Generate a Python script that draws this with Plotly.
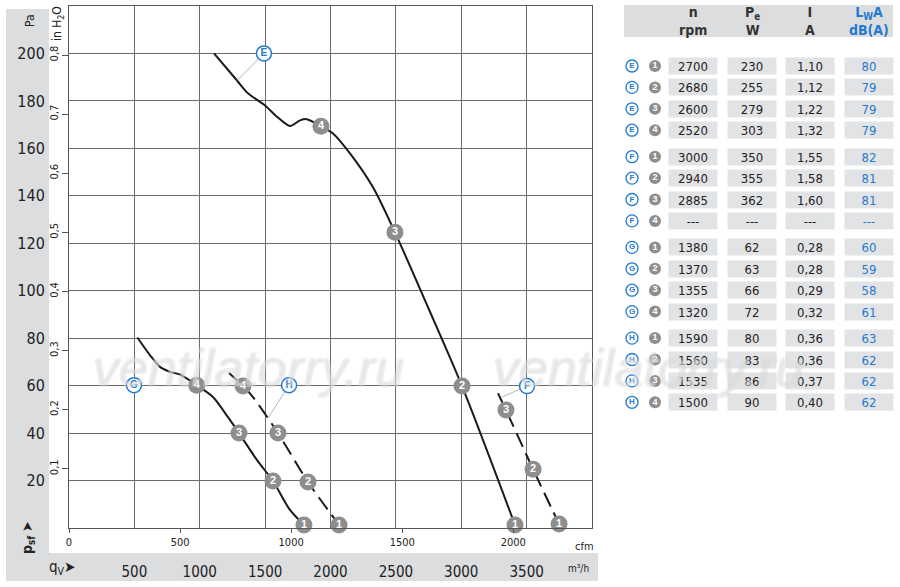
import plotly.graph_objects as go

W, H = 900, 587
NARROW = "Liberation Sans Narrow, DejaVu Sans Condensed, Arial Narrow, sans-serif"
DARK = "#222222"
BLUE = "#1f7ad0"
GRAYMK = "#8e8e8e"
STRIP = "#dcdddf"
CELL = "#e2e3e5"

# ---- characteristic curves (q_V in m3/h, p_sf in Pa) ----
E_q = [1109, 1285, 1369, 1499, 1598, 1690, 1767, 1818, 1927, 2019, 2149, 2325, 2493, 2750, 3006, 3411]
E_p = [200, 188.6, 183.2, 178.1, 173, 169.4, 171.8, 172.3, 169.3, 166.3, 157.9, 143.6, 124.6, 92.5, 59.8, 1.3]
F_q = [3281, 3342, 3549, 3748]
F_p = [56.8, 49.7, 24.8, 1.7]
G_q = [523, 620, 696, 772, 849, 913, 977, 1101, 1216, 1300, 1438, 1560, 1690, 1797]
G_p = [80.3, 72.8, 67.9, 65.8, 64.7, 62.6, 60.2, 55.2, 46.7, 40, 28.6, 19.8, 7.6, 1.3]
H_q = [1224, 1331, 1407, 1598, 1828, 2065]
H_p = [65.3, 59.8, 55.2, 40, 19.4, 1.3]

# operating points on the curves
pt_num = ["4", "3", "2", "1"]
E_mq = [1927, 2493, 3006, 3411]
E_mp = [169.3, 124.6, 59.8, 1.3]
F_num = ["3", "2", "1"]
F_mq = [3342, 3549, 3748]
F_mp = [49.7, 24.8, 1.7]
G_mq = [977, 1300, 1560, 1797]
G_mp = [60.2, 40, 19.8, 1.3]
H_mq = [1331, 1598, 1828, 2065]
H_mp = [59.8, 40, 19.4, 1.3]

# curve letters and their leader lines
lab_txt = ["E", "F", "G", "H"]
lab_q = [1491, 3503, 497, 1683]
lab_p = [200, 59.8, 60.2, 60.2]
lead_q = [1285, 3312, None, 1522]
lead_p = [188.6, 55.2, None, 46.3]

# axes ticks
pa_ticks = [20, 40, 60, 80, 100, 120, 140, 160, 180, 200]
inh2o_ticks = [0.1, 0.2, 0.3, 0.4, 0.5, 0.6, 0.7, 0.8]
inh2o_text = ["0,1", "0,2", "0,3", "0,4", "0,5", "0,6", "0,7", "0,8"]
m3h_ticks = [500, 1000, 1500, 2000, 2500, 3000, 3500]
cfm_ticks = [0, 500, 1000, 1500, 2000]

# ---- table ----
tbl_letter = ["E"] * 4 + ["F"] * 4 + ["G"] * 4 + ["H"] * 4
tbl_num = ["1", "2", "3", "4"] * 4
tbl_n = ["2700", "2680", "2600", "2520", "3000", "2940", "2885", "---",
         "1380", "1370", "1355", "1320", "1590", "1560", "1535", "1500"]
tbl_pe = ["230", "255", "279", "303", "350", "355", "362", "---",
          "62", "63", "66", "72", "80", "83", "86", "90"]
tbl_i = ["1,10", "1,12", "1,22", "1,32", "1,55", "1,58", "1,60", "---",
         "0,28", "0,28", "0,29", "0,32", "0,36", "0,36", "0,37", "0,40"]
tbl_lwa = ["80", "79", "79", "79", "82", "81", "81", "---",
           "60", "59", "58", "61", "63", "62", "62", "62"]
tbl_head = ["<b>n<br>rpm</b>", "<b>P<sub>e</sub><br>W</b>", "<b>I<br>A</b>", "<b>L<sub>W</sub>A<br>dB(A)</b>"]

# layout geometry (pixels)
PX0, PX1, PY0, PY1 = 69, 592, 6, 528
col_x = [693, 752, 810, 869]
row_y = [66 + (k // 4) * 90.7 + (k % 4) * 21.4 for k in range(16)]


def px(x):
    return x / W


def py(y):
    return 1 - y / H


fig = go.Figure()

# curves
for q, p, dash in [(E_q, E_p, "solid"), (F_q, F_p, "15px,7px"), (G_q, G_p, "solid"), (H_q, H_p, "15px,7px")]:
    fig.add_trace(go.Scatter(x=q, y=p, mode="lines", hoverinfo="skip",
                             line=dict(color="#1a1a1a", width=2, shape="spline", smoothing=0.8, dash=dash)))

# leader lines
for i in range(4):
    if lead_q[i] is not None:
        fig.add_trace(go.Scatter(x=[lab_q[i], lead_q[i]], y=[lab_p[i], lead_p[i]], mode="lines",
                                 hoverinfo="skip", line=dict(color="#b5b5b5", width=1)))

# numbered points
for nums, q, p in [(pt_num, E_mq, E_mp), (F_num, F_mq, F_mp), (pt_num, G_mq, G_mp), (pt_num, H_mq, H_mp)]:
    fig.add_trace(go.Scatter(x=q, y=p, mode="markers+text", text=nums, textposition="middle center",
                             hoverinfo="skip", cliponaxis=False,
                             marker=dict(size=17, color=GRAYMK, line=dict(width=0)),
                             textfont=dict(family="Liberation Sans, Arial", size=11, color="white", weight="bold")))

# letter labels
fig.add_trace(go.Scatter(x=lab_q, y=lab_p, mode="markers+text", text=lab_txt, textposition="middle center",
                         hoverinfo="skip", cliponaxis=False,
                         marker=dict(size=15, color="white", line=dict(width=1.5, color=BLUE)),
                         textfont=dict(family="Liberation Sans, Arial", size=10, color=BLUE, weight="bold")))

# dummy trace for secondary axes (cfm / in H2O)
fig.add_trace(go.Scatter(x=[None], y=[None], xaxis="x2", yaxis="y2", showlegend=False, hoverinfo="skip"))

# table markers (pixel space axes x3/y3)
fig.add_trace(go.Scatter(x=[632] * 16, y=row_y, mode="markers+text", text=tbl_letter, xaxis="x3", yaxis="y3",
                         textposition="middle center", hoverinfo="skip",
                         marker=dict(size=12, color="white", line=dict(width=1.3, color=BLUE)),
                         textfont=dict(family="Liberation Sans, Arial", size=8, color=BLUE, weight="bold")))
fig.add_trace(go.Scatter(x=[655] * 16, y=row_y, mode="markers+text", text=tbl_num, xaxis="x3", yaxis="y3",
                         textposition="middle center", hoverinfo="skip",
                         marker=dict(size=12, color=GRAYMK, line=dict(width=0)),
                         textfont=dict(family="Liberation Sans, Arial", size=9, color="white", weight="bold")))

ann = []
shapes = []
# gray strips (paper referenced, drawn beneath everything)
for x0, x1, y0, y1 in [(6, 49, 9, 555), (6, 598, 553, 581), (624, 893, 5, 37)]:
    shapes.append(dict(type="rect", xref="paper", yref="paper", x0=px(x0), x1=px(x1), y0=py(y1), y1=py(y0),
                       fillcolor=STRIP, line_width=0, layer="below"))

# header
for j, t in enumerate(tbl_head):
    ann.append(dict(xref="x3", yref="y3", x=col_x[j], y=21, text=t, showarrow=False,
                    font=dict(family=NARROW, size=14, color=BLUE if j == 3 else "#333333")))
# cells
for k in range(16):
    for j, vals in enumerate([tbl_n, tbl_pe, tbl_i, tbl_lwa]):
        ann.append(dict(xref="x3", yref="y3", x=col_x[j], y=row_y[k], text=vals[k], showarrow=False,
                        width=48, height=16, bgcolor=CELL, borderpad=0, align="center", valign="middle",
                        font=dict(family=NARROW, size=13, color=BLUE if j == 3 else DARK)))

# axis captions
ann.append(dict(xref="x3", yref="y3", x=30, y=21, text="Pa", showarrow=False, textangle=-90,
                font=dict(family=NARROW, size=12, color=DARK)))
ann.append(dict(xref="x3", yref="y3", x=58, y=24, text="in H<sub>2</sub>O", showarrow=False, textangle=-90,
                font=dict(family=NARROW, size=12, color=DARK)))
ann.append(dict(xref="x3", yref="y3", x=28, y=538, text="<b>p<sub>sf</sub></b> ➤", showarrow=False, textangle=-90,
                font=dict(family=NARROW, size=14, color=DARK)))
ann.append(dict(xref="x3", yref="y3", x=62, y=567, text="q<sub>V</sub>➤", showarrow=False,
                font=dict(family=NARROW, size=15, color=DARK)))
ann.append(dict(xref="x3", yref="y3", x=584, y=546, text="cfm", showarrow=False,
                font=dict(family=NARROW, size=11, color=DARK)))
ann.append(dict(xref="x3", yref="y3", x=578, y=568, text="m³/h", showarrow=False,
                font=dict(family=NARROW, size=10, color=DARK)))

# watermark
for cx in [248, 648]:
    ann.append(dict(xref="x3", yref="y3", x=cx, y=368, text="ventilatorry.ru", showarrow=False,
                    font=dict(family="Liberation Sans, Arial", size=52, color="rgba(255,255,255,0.2)", style="italic",
                              shadow="-1px -1px 0 #cfcfcf, 1px -1px 0 #cfcfcf, -1px 1px 0 #cfcfcf, 1px 1px 0 #cfcfcf")))

axfont = dict(family=NARROW, color=DARK)
fig.update_layout(
    width=W, height=H, margin=dict(l=0, r=0, t=0, b=0),
    paper_bgcolor="white", plot_bgcolor="rgba(0,0,0,0)", showlegend=False,
    xaxis=dict(domain=[PX0 / W, PX1 / W], range=[0, 4000], tickvals=m3h_ticks, ticks="",
               showgrid=True, gridcolor="#6a6a6a", gridwidth=1, zeroline=False,
               showline=True, linecolor="#555555", linewidth=1, mirror=True,
               ticklabelstandoff=30, tickfont=dict(size=15, **axfont), automargin=False, fixedrange=True),
    xaxis2=dict(overlaying="x", anchor="y", side="bottom", range=[0, 4000 / 1.699], tickvals=cfm_ticks,
                ticks="outside", ticklen=4, tickcolor="#555555", showgrid=False, zeroline=False, showline=False,
                tickfont=dict(size=11, **axfont), automargin=False, fixedrange=True),
    yaxis=dict(domain=[1 - PY1 / H, 1 - PY0 / H], range=[0, 220], tickvals=pa_ticks, ticks="",
               showgrid=True, gridcolor="#6a6a6a", gridwidth=1, zeroline=False,
               showline=True, linecolor="#555555", linewidth=1, mirror=True,
               ticklabelstandoff=20, tickfont=dict(size=16, **axfont), automargin=False, fixedrange=True),
    yaxis2=dict(overlaying="y", anchor="x", side="left", range=[0, 220 / 249.089], tickvals=inh2o_ticks,
                ticktext=inh2o_text, tickangle=-90, ticks="outside", ticklen=6, tickcolor="#555555",
                showgrid=False, zeroline=False, showline=False,
                tickfont=dict(size=11, **axfont), automargin=False, fixedrange=True),
    xaxis3=dict(domain=[0, 1], range=[0, W], visible=False, fixedrange=True, anchor="y3"),
    yaxis3=dict(domain=[0, 1], range=[H, 0], visible=False, fixedrange=True, anchor="x3"),
    annotations=ann, shapes=shapes,
)

fig.write_html("out.html", config={"displayModeBar": False},
               post_script="document.body.style.margin='0px';document.body.style.overflow='hidden';")
